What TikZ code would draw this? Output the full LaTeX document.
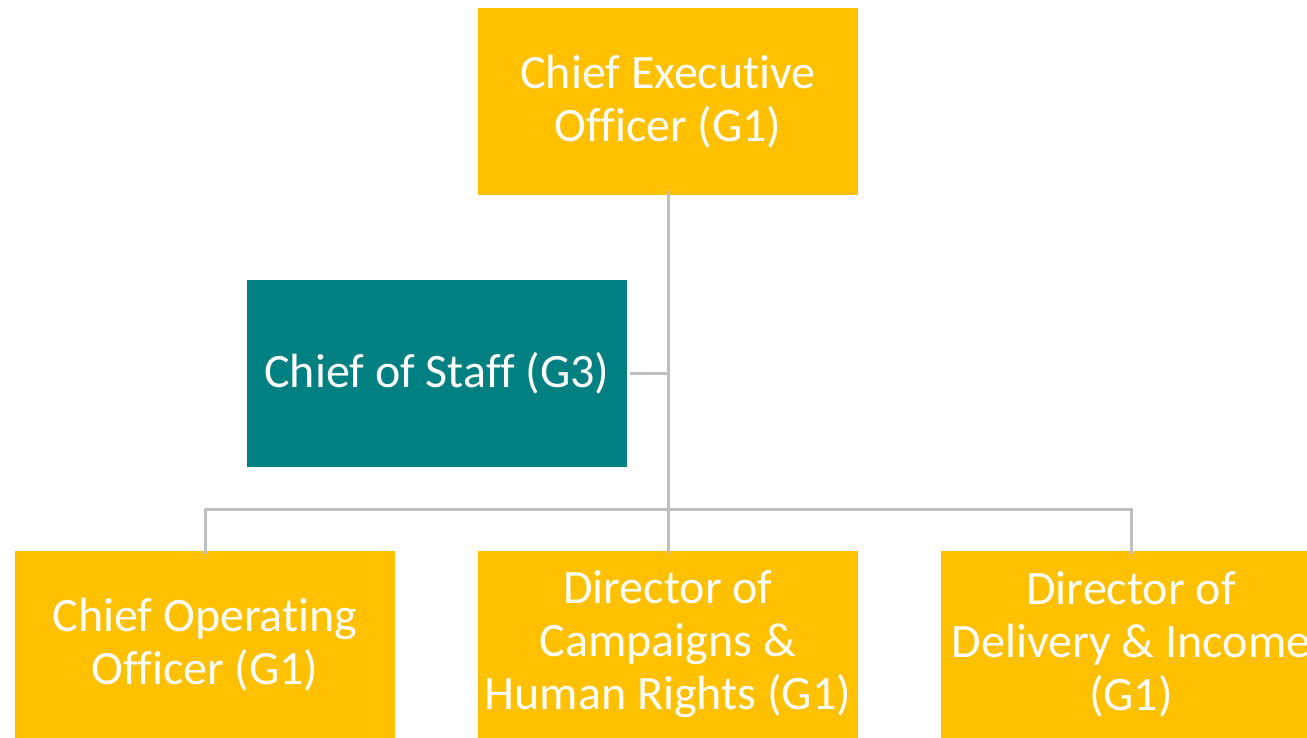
\documentclass[tikz,border=0pt]{standalone}
\usepackage{fontspec}
\setmainfont{Carlito}[Ligatures=NoCommon]
\definecolor{boxyellow}{HTML}{FFC000}
\definecolor{boxteal}{HTML}{008080}
\definecolor{linegrey}{HTML}{BFBFBF}
\begin{document}
\begin{tikzpicture}[x=1pt,y=-1pt,
  orgbox/.style={fill=boxyellow, draw=none, minimum width=380pt, minimum height=187pt,
    inner sep=0pt, text=white, align=center,
    font=\fontsize{48}{53}\selectfont},
  tealbox/.style={orgbox, fill=boxteal},
  conn/.style={draw=linegrey, line width=3pt}]
\useasboundingbox (0,0) rectangle (1307,737);
\clip (0,0) rectangle (1307,737);
\node[orgbox] (ceo) at (668,101.5) {Chief Executive\\Officer (G1)};
\node[tealbox] (cos) at (437,373.5) {Chief of Staff (G3)};
\node[orgbox] (coo) at (205,644.5) {Chief Operating\\Officer (G1)};
\node[orgbox] (dch) at (668,644.5) {Director of\\Campaigns \&\\Human Rights (G1)};
\node[orgbox] (ddi) at (1131,644.5) {Director of\\Delivery \& Income\\(G1)};
\coordinate (top) at ([yshift=4pt]ceo.south);
\coordinate (jcos) at (cos.east -| ceo.south);
\coordinate (jbar) at (668,509);
\draw[conn] (top) -- (jbar);
\draw[conn] ([xshift=3pt]cos.east) -- (jcos);
\draw[conn] ([yshift=-3pt]coo.north) |- (jbar) -| ([yshift=-3pt]ddi.north);
\draw[conn] (jbar) -- ([yshift=-3pt]dch.north);
\end{tikzpicture}
\end{document}
